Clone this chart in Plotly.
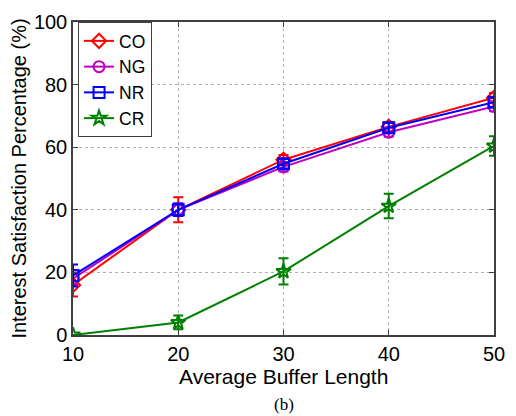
import plotly.graph_objects as go

buffer_len = [10, 20, 30, 40, 50]

co = [16.0, 40.0, 56.0, 66.5, 75.8]
co_err = [3.7, 4.0, 1.5, 1.5, 1.5]
ng = [18.0, 40.0, 53.7, 64.8, 73.0]
ng_err = [2.0, 2.0, 1.5, 1.5, 1.5]
nr = [19.0, 40.0, 54.7, 66.2, 74.4]
nr_err = [3.5, 2.0, 1.5, 1.5, 1.5]
cr = [0.0, 4.0, 20.3, 41.2, 60.4]
cr_err = [0.0, 2.2, 4.2, 3.9, 3.1]

series = [
    ("CO", co, co_err, "#ff0000", "diamond-open"),
    ("NG", ng, ng_err, "#bf00bf", "circle-open"),
    ("NR", nr, nr_err, "#0000ff", "square-open"),
    ("CR", cr, cr_err, "#008000", "star-open"),
]

fig = go.Figure()
for name, vals, errs, color, sym in series:
    fig.add_trace(go.Scatter(
        x=buffer_len, y=vals, name=name, mode="lines+markers",
        line=dict(color=color, width=2),
        marker=dict(symbol=sym, size=11, color=color, line=dict(width=2, color=color)),
        error_y=dict(type="data", array=errs, visible=True, color=color,
                     thickness=2, width=5),
    ))

font_family = "Liberation Sans, Arial, sans-serif"
axis_common = dict(
    showline=True, linecolor="#404040", linewidth=1.5, mirror="ticks",
    ticks="inside", ticklen=5, tickcolor="#404040",
    showgrid=True, gridcolor="#b0b0b0", griddash="dot", gridwidth=1,
    zeroline=False, tickfont=dict(size=20, color="black", family=font_family),
)

fig.update_layout(
    width=516, height=416,
    margin=dict(l=73, r=11, t=15, b=81),
    paper_bgcolor="white", plot_bgcolor="white",
    font=dict(family=font_family, color="black"),
    xaxis=dict(range=[10, 50], tickvals=[10, 20, 30, 40, 50], **axis_common),
    yaxis=dict(range=[0, 100], tickvals=[0, 20, 40, 60, 80, 100],
               title=dict(text="Interest Satisfaction Percentage (%)", font=dict(size=20), standoff=2),
               **axis_common),
    legend=dict(x=0.012, y=1.0, xanchor="left", yanchor="top",
                bgcolor="white", bordercolor="#404040", borderwidth=1,
                font=dict(size=17.5), tracegroupgap=0, itemwidth=30),
    showlegend=True,
)

# x-axis title and panel caption
fig.add_annotation(text="Average Buffer Length", xref="paper", yref="paper", x=0.5, y=0,
                   yshift=-41, yanchor="middle", showarrow=False,
                   font=dict(family=font_family, size=21))
fig.add_annotation(text="(b)", xref="paper", yref="paper", x=0.5, y=0,
                   yshift=-69, yanchor="middle", showarrow=False,
                   font=dict(family="Liberation Serif, Times New Roman, serif", size=17))

fig.write_html("out.html")
